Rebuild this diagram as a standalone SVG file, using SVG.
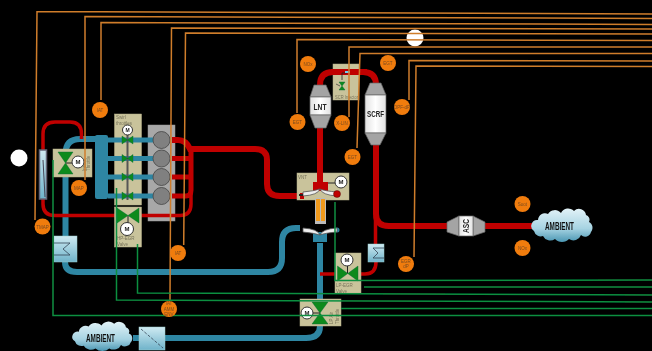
<svg xmlns="http://www.w3.org/2000/svg" width="652" height="351" viewBox="0 0 652 351">
<style>
.box{fill:#c9c39b;stroke:#b5af88;stroke-width:.5}
.pipeB{fill:none;stroke:#2f86a3;stroke-width:6}
.pipeR{fill:none;stroke:#c00000;stroke-width:6}
.thinR{fill:none;stroke:#c00000;stroke-width:3.5}
.org{fill:none;stroke:#cf7d2c;stroke-width:1.5}
.grn{fill:none;stroke:#0b8f40;stroke-width:1.5}
.sensor{fill:#f07c10}
.st{font-family:"Liberation Sans",Arial,sans-serif;font-size:4.5px;fill:#7a4a18;text-anchor:middle}
.bt{font-family:"Liberation Sans",Arial,sans-serif;font-size:4.5px;fill:#77735a}
.motor{fill:#fff;stroke:#333;stroke-width:1}
.mt{font-family:"Liberation Sans",Arial,sans-serif;font-size:6px;font-weight:bold;fill:#222;text-anchor:middle}
.valve{fill:#0a8a1e;stroke:#063;stroke-width:.4}
.grey{fill:#a4a4a4;stroke:#666;stroke-width:.7}
.cat{fill:url(#catBody);stroke:#666;stroke-width:.7}
.ct{font-family:"Liberation Sans",Arial,sans-serif;font-weight:bold;fill:#222;text-anchor:middle}
.amb{font-family:"Liberation Sans",Arial,sans-serif;font-weight:bold;font-size:10px;fill:#111;text-anchor:middle}
.cool{fill:url(#coolGrad);stroke:#9cc;stroke-width:.5}
</style>
<defs>
<linearGradient id="cloudGrad" x1="0" y1="0" x2="0" y2="1"><stop offset="0" stop-color="#e2f2f7"/><stop offset=".6" stop-color="#a6d3e2"/><stop offset="1" stop-color="#4b97b3"/></linearGradient>
<linearGradient id="coolGrad" x1="0" y1="0" x2="0" y2="1"><stop offset="0" stop-color="#cfeaf2"/><stop offset="1" stop-color="#6fb3ca"/></linearGradient>
<linearGradient id="catBody" x1="0" y1="0" x2="1" y2="0"><stop offset="0" stop-color="#e2e2e2"/><stop offset=".5" stop-color="#fff"/><stop offset="1" stop-color="#e2e2e2"/></linearGradient>
<path id="cloud" d="M7 11A7 7 0 0 1 17 5A8 8 0 0 1 30 4A8 8 0 0 1 43 2A7 7 0 0 1 55 6A5 5 0 0 1 58 13A5 6 0 0 1 60 23A6 6 0 0 1 50 26A8 8 0 0 1 38 30A9 8 0 0 1 24 30A8 8 0 0 1 12 27A7 7 0 0 1 3 22A6 6 0 0 1 7 11Z" fill="url(#cloudGrad)"/>
<filter id="soft" x="0" y="0" width="100%" height="100%"><feGaussianBlur stdDeviation="0.35"/></filter>
</defs>
<rect width="652" height="351" fill="#000"/>
<g filter="url(#soft)">
<circle id="marker-left" cx="19" cy="158" r="8.5" fill="#fff"/>
<circle id="marker-top" cx="415" cy="38" r="8.5" fill="#fff"/>

<g id="box-swirl"><rect class="box" x="114.500" y="114" width="27" height="91"/><text class="bt" x="116" y="119">Swirl</text><text class="bt" x="116" y="125">throttles</text></g>
<g id="engine-block"><rect x="148" y="125" width="27" height="96" fill="#a8a8a8" stroke="#999" stroke-width=".5"/></g>

<g id="connectors-pipes">
<g id="blue-pipes">
<path class="pipeB" d="M65.500 236V154Q65.500 139 80 139H100"/>
<path class="pipeB" d="M65 262Q65 272 77 272H268Q282 272 282 258V242Q282 228 296 228H300"/>
<path class="pipeB" d="M320 243V326Q320 338 306 338H165"/>
<path d="M133 338H139" class="pipeB"/>
<path d="M108 140H153M108 158.500H153M108 177H153M108 196H153" class="pipeB" style="stroke-width:5"/>
<rect x="95" y="135" width="13" height="64" rx="2" fill="#2f86a3"/>
<circle cx="337" cy="230" r="2.500" fill="#2f86a3"/>
<rect x="313" y="232" width="14" height="10" fill="#2f86a3"/>
</g>
<g id="red-pipes">
<path class="thinR" d="M81.500 139V134Q81.500 122 70 122H55Q43 122 43 134V204Q43 215.500 55 215.500H180Q191 215.500 191 204V192"/>
<path class="pipeR" d="M172 140H178Q186 140 190 149H255Q267 149 267 160V184Q267 196 280 196H300"/>
<path class="pipeR" d="M172 158.500H190M172 177H190M172 196H186Q191 196 191 190V148" style="stroke-width:5"/>
<path class="pipeR" d="M320 190V85Q320 72 333 72H363Q376 72 376 85V214Q376 226 389 226H532"/>
<path class="thinR" d="M375.500 216V244M376 262Q376 274 365 274H355M320 274H335"/>
</g>
</g>

<g id="cylinders" fill="#808080" stroke="#444" stroke-width=".8"><circle cx="161.500" cy="140" r="8.500"/><circle cx="161.500" cy="158.500" r="8.500"/><circle cx="161.500" cy="177" r="8.500"/><circle cx="161.500" cy="196" r="8.500"/></g>

<g id="intake-throttle"><rect class="box" x="53" y="149" width="39" height="28"/><text class="bt" transform="translate(90,171) rotate(-90)">Throttle</text><text class="bt" transform="translate(85.500,171) rotate(-90)">Intake</text><polygon class="valve" points="58,152 73,152 58,174 73,174"/><path d="M66 163H74" stroke="#222"/><circle class="motor" cx="78" cy="162" r="6"/><text class="mt" x="78" y="164">M</text></g>
<g id="swirl-valves"><path d="M127.500 135V200" stroke="#555" stroke-width="2"/><g class="valve"><polygon points="122,136 133,144 133,136 122,144"/><polygon points="122,154.500 133,162.500 133,154.500 122,162.500"/><polygon points="122,173 133,181 133,173 122,181"/><polygon points="122,192 133,200 133,192 122,200"/></g><circle class="motor" cx="127.500" cy="130" r="5"/><text class="mt" x="127.500" y="132" style="font-size:5px">M</text></g>
<g id="hp-egr-valve"><rect class="box" x="114.500" y="207" width="27" height="40"/><text class="bt" x="117" y="240">HP-EGR</text><text class="bt" x="117" y="246">Valve</text><polygon class="valve" points="117,208 117,223 139,208 139,223"/><path d="M128 216V224" stroke="#222"/><circle class="motor" cx="127" cy="229" r="6.500"/><text class="mt" x="127" y="231">M</text></g>
<g id="lp-egr-valve"><rect class="box" x="335" y="253" width="26" height="40"/><text class="bt" x="336" y="287">LP-EGR</text><text class="bt" x="336" y="292.500">Valve</text><polygon class="valve" points="337.500,266 337.500,281 358,266 358,281"/><path d="M347.500 273V266" stroke="#222"/><circle class="motor" cx="347" cy="260" r="6"/><text class="mt" x="347" y="262">M</text></g>
<g id="lp-throttle-valve"><rect class="box" x="300" y="299" width="41" height="27"/><text class="bt" transform="translate(333,324) rotate(-90)">LP Air</text><text class="bt" transform="translate(339,324) rotate(-90)">Throttle</text><polygon class="valve" points="312,302 328,302 312,324 328,324"/><path d="M320 313H312" stroke="#222"/><circle class="motor" cx="307" cy="313" r="6"/><text class="mt" x="307" y="315">M</text></g>

<g id="turbo">
<rect x="297" y="173" width="52" height="27" class="box"/><text class="bt" x="298" y="179">VNT</text>
<path d="M320 170V184" stroke="#c00000" stroke-width="6"/>
<path d="M300 196H304" stroke="#c00000" stroke-width="6"/>
<rect x="313" y="182" width="15" height="9" fill="#c00000"/>
<path d="M303 196Q318 195 320 189Q322 195 337 196V192Q325 191 320 189Q314 191 303 192Z" fill="#eee" stroke="#555" stroke-width=".8"/>
<path d="M303 195H299" stroke="#222" stroke-width="2"/>
<circle cx="337" cy="194" r="3.500" fill="#c00000" stroke="#300" stroke-width=".4"/>
<path d="M328 183H335" stroke="#222"/><circle class="motor" cx="341" cy="182" r="6"/><text class="mt" x="341" y="184">M</text>
<rect x="315" y="198" width="11" height="26" fill="#bbb"/>
<rect x="316" y="199" width="4" height="22" fill="#f19a1a"/><rect x="321" y="199" width="4" height="22" fill="#f19a1a"/>
<path d="M303 228Q318 229 320 235Q322 229 337 228V232Q325 233 320 235Q314 233 303 232Z" fill="#eee" stroke="#555" stroke-width=".8"/>
</g>

<g id="maf"><rect x="39.500" y="150" width="7" height="49" fill="url(#coolGrad)" stroke="#667" stroke-width="1.500"/><path d="M43 160L45 197" stroke="#445" stroke-width="1"/></g>
<g id="intake-cooler"><rect class="cool" x="54" y="236" width="23" height="26"/><path d="M54 243H70L63 249L70 255H54" fill="none" stroke="#345" stroke-width=".8"/></g>
<g id="egr-cooler"><rect class="cool" x="368" y="244" width="16" height="18"/><path d="M384 248H373L378 253L373 258H384" fill="none" stroke="#345" stroke-width=".8"/></g>
<g id="air-filter"><rect class="cool" x="139" y="327" width="26" height="23"/><path d="M141 329L163 348" stroke="#345" stroke-width=".8" stroke-dasharray="3 1.500"/></g>

<g id="lnt"><polygon class="grey" points="314,85 326,85 331,97 310,97"/><rect class="cat" x="310" y="97" width="21" height="18"/><polygon class="grey" points="310,115 331,115 326,128 315,128"/><text class="ct" x="320" y="110" font-size="9" textLength="13" lengthAdjust="spacingAndGlyphs">LNT</text></g>
<g id="scrf"><polygon class="grey" points="370,83 381,83 386,95 365,95"/><rect class="cat" x="365" y="95" width="21" height="38"/><polygon class="grey" points="365,133 386,133 380,145 371,145"/><text class="ct" x="375.500" y="117" font-size="9" textLength="17" lengthAdjust="spacingAndGlyphs">SCRF</text></g>
<g id="asc"><polygon class="grey" points="447,222 459,216 459,236 447,232"/><polygon class="grey" points="473,216 485,222 485,232 473,236"/><rect class="cat" x="459" y="216" width="14" height="20"/><text class="ct" transform="translate(469,226) rotate(-90)" font-size="8.500" textLength="14" lengthAdjust="spacingAndGlyphs">ASC</text></g>
<g id="scr-injector"><rect class="box" x="333" y="64" width="26" height="36"/><text class="bt" x="335" y="99" textLength="23" lengthAdjust="spacingAndGlyphs">SCR Injector</text><path d="M331 72H367" stroke="#c00000" stroke-width="6"/><path d="M342 80V73H347" fill="none" stroke="#222" stroke-width=".8"/><polygon class="valve" points="339,82 345,82 339,90 345,90"/><path d="M336 84L340 86" stroke="#333" stroke-width=".7"/><rect x="345" y="71" width="5" height="2" fill="#6fd0f0"/></g>

<g id="ambient-exhaust"><use href="#cloud" transform="translate(531,209)"/><text class="amb" x="559.500" y="230" textLength="29" lengthAdjust="spacingAndGlyphs">AMBIENT</text></g>
<g id="ambient-intake"><use href="#cloud" transform="translate(72,322) scale(.98,.88)"/><text class="amb" x="100.500" y="341.500" textLength="29" lengthAdjust="spacingAndGlyphs">AMBIENT</text></g>

<g id="connectors-signals">
<g id="signals-orange">
<path class="org" d="M35 220L37 11.500L652 14"/>
<path class="org" d="M85 180V16.500L652 18.500"/>
<path class="org" d="M101 100V22.500L652 24.500"/>
<path class="org" d="M170 300L171.500 28L652 29"/>
<path class="org" d="M183.700 245L185.500 33L652 34"/>
<path class="org" d="M297 113V39.500L652 40.500"/>
<path class="org" d="M349 117V47H652"/>
<path class="org" d="M357 148L360 53.500H652"/>
<path class="org" d="M409 100V60.500L652 61"/>
<path class="org" d="M414 257L416 66L652 66.500"/>
</g>
<g id="signals-green">
<path class="grn" d="M53 160V315.500H652"/>
<path class="grn" d="M116.500 188V300L652 302"/>
<path class="grn" d="M137.500 244V293L652 295"/>
<path class="grn" d="M335 202V280.500L652 280"/>
<path class="grn" d="M364 287H652"/>
<path class="grn" d="M341 308.500H652"/>
</g>
</g>

<g id="s-iat1"><circle class="sensor" cx="100" cy="110" r="8"/><text class="st" x="100" y="112">IAT</text></g>
<g id="s-tmap"><circle class="sensor" cx="42.500" cy="226.500" r="8"/><text class="st" x="42.500" y="228.500">TMAP</text></g>
<g id="s-map"><circle class="sensor" cx="79" cy="188" r="8"/><text class="st" x="79" y="190">MAP</text></g>
<g id="s-iat2"><circle class="sensor" cx="178" cy="253" r="8"/><text class="st" x="178" y="255">IAT</text></g>
<g id="s-iat-amm"><circle class="sensor" cx="169" cy="309" r="8"/><text class="st" x="169" y="305">IAT</text><text class="st" x="169" y="310.500">AMM</text><text class="st" x="169" y="316">ENV</text></g>
<g id="s-egr-dp"><circle class="sensor" cx="406" cy="264" r="8"/><text class="st" x="406" y="263">EGR</text><text class="st" x="406" y="268">dP</text></g>
<g id="s-nox1"><circle class="sensor" cx="308" cy="64" r="8"/><text class="st" x="308" y="66">NOx</text></g>
<g id="s-egt1"><circle class="sensor" cx="388" cy="63" r="8"/><text class="st" x="388" y="65">EGT</text></g>
<g id="s-egt2"><circle class="sensor" cx="297.500" cy="122" r="8"/><text class="st" x="297.500" y="124">EGT</text></g>
<g id="s-xlin"><circle class="sensor" cx="342" cy="123" r="8"/><text class="st" x="342" y="125">X-LIN</text></g>
<g id="s-egt3"><circle class="sensor" cx="352.500" cy="157" r="8"/><text class="st" x="352.500" y="159">EGT</text></g>
<g id="s-dpf"><circle class="sensor" cx="402" cy="107" r="8"/><text class="st" x="402" y="109">DPF-dP</text></g>
<g id="s-soot"><circle class="sensor" cx="522.500" cy="204" r="8"/><text class="st" x="522.500" y="206">Soot</text></g>
<g id="s-nox2"><circle class="sensor" cx="522.500" cy="248" r="8"/><text class="st" x="522.500" y="250">NOx</text></g>
</g>
</svg>
